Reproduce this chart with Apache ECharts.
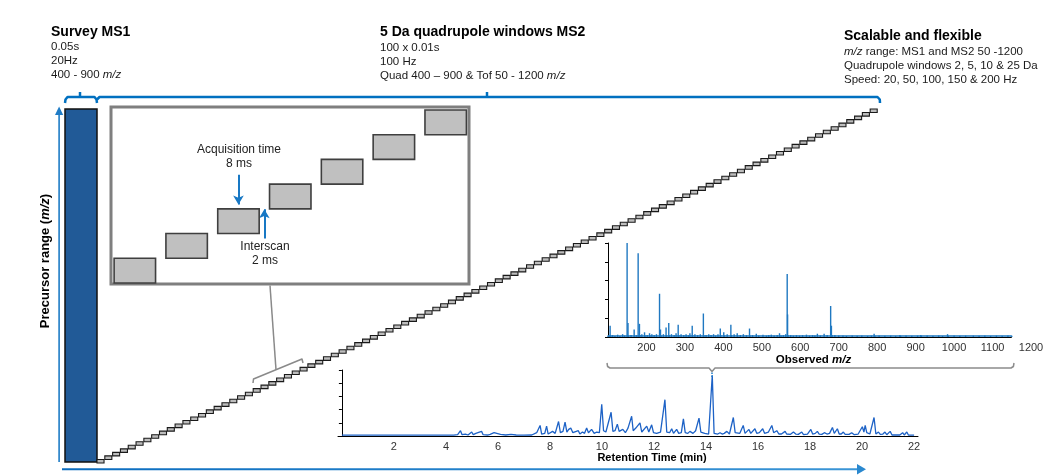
<!DOCTYPE html>
<html>
<head>
<meta charset="utf-8">
<script src="https://cdn.jsdelivr.net/npm/echarts@6/dist/echarts.min.js"></script>
<style>
  html, body { margin: 0; padding: 0; background: #fff; }
  #chart { width: 1059px; height: 475px; }
</style>
</head>
<body>
<div id="chart"></div>
<script>
// ---- acquisition scheme ----
const ms1Range = [400, 900];          // survey scan precursor range (m/z)
const ms1DurationMs = 50;             // 0.05 s survey scan
const cycleMs = 10;                   // one quadrupole window per 10 ms
const acquisitionMs = 8;              // 8 ms acquisition + 2 ms interscan
const windowDa = 5;                   // 5 Da quadrupole windows
// lower edge of every quadrupole window, 400 -> 895
const windowLows = [
  400, 405, 410, 415, 420, 425, 430, 435, 440, 445,
  450, 455, 460, 465, 470, 475, 480, 485, 490, 495,
  500, 505, 510, 515, 520, 525, 530, 535, 540, 545,
  550, 555, 560, 565, 570, 575, 580, 585, 590, 595,
  600, 605, 610, 615, 620, 625, 630, 635, 640, 645,
  650, 655, 660, 665, 670, 675, 680, 685, 690, 695,
  700, 705, 710, 715, 720, 725, 730, 735, 740, 745,
  750, 755, 760, 765, 770, 775, 780, 785, 790, 795,
  800, 805, 810, 815, 820, 825, 830, 835, 840, 845,
  850, 855, 860, 865, 870, 875, 880, 885, 890, 895
];
// close-up of the first seven windows
const zoomStartsMs = [0, 10, 20, 30, 40, 50, 60];
const zoomWindowLows = [400, 405, 410, 415, 420, 425, 430];

// ---- MS2 stick spectrum (observed m/z, relative intensity %) ----
const spectrumTicks = [200, 300, 400, 500, 600, 700, 800, 900, 1000, 1100, 1200];
const spectrum = [
  [100, 1.5], [104, 1], [105.5, 12], [107, 1.5], [112, 2], [118, 1], [125, 2.5], [131, 1],
  [138, 3], [143, 1.5], [149.7, 100], [151, 1.5], [152, 15], [153, 1.5], [160, 2], [168, 8],
  [169, 1.5], [174, 2], [178.4, 89], [179.5, 2], [181.8, 14], [183, 2], [188, 3], [195, 5],
  [196, 1.5], [202, 2], [208, 4], [209, 1.5], [214, 3], [220, 2], [226, 3], [234, 46],
  [235, 2], [236.5, 8], [238, 1.5], [244, 3], [251, 10], [252, 2], [258, 15], [259, 2],
  [265, 3], [272, 2], [277, 4], [282.5, 13], [284, 2], [290, 3], [297, 2], [303, 3],
  [309, 2], [313, 4], [319, 12], [320, 2], [326, 3], [333, 2], [340, 3], [348, 25],
  [349, 2], [355, 2], [362, 3], [368, 2], [374.5, 3], [380, 1.5], [386, 3], [392, 9],
  [393, 2], [401, 5], [402, 1.5], [410, 3], [419.5, 13], [421, 2], [428, 3], [436, 4],
  [437, 1.5], [444, 2], [452, 3], [460, 2], [468, 9], [469, 1.5], [476, 2], [485.6, 3.5],
  [492, 1.5], [503, 2.5], [512, 1.5], [518, 2], [524.7, 2.5], [532, 1.5], [540, 2], [546, 4],
  [550, 1.5], [556, 2], [562, 3], [566, 67], [567, 24], [568, 2], [575, 2], [582, 1.5],
  [590, 2], [598, 1.5], [606, 2], [616, 2.5], [624, 1.5], [632, 2], [638, 1.5], [644.5, 3.5],
  [652, 1.5], [662, 3.5], [670, 2], [679, 33], [681, 12], [682.6, 2], [690, 2], [700, 1.5],
  [711, 1.5], [720, 1.2], [735, 1.5], [748, 1.2], [760, 1.5], [775, 1.2], [785, 1.5], [792, 3.5],
  [794, 1.2], [805, 1.5], [820, 1.2], [835, 1.5], [848, 1.2], [859, 2], [861, 1.2], [875, 1.5],
  [890, 1.2], [905, 1.5], [913.5, 2], [915, 1.2], [930, 1.5], [945, 1.2], [960, 1.5], [970, 1.2],
  [983, 3], [985, 1.2], [1000, 1.5], [1015, 1.2], [1030, 1.5], [1050, 1.5], [1065, 1.2], [1080, 1.5],
  [1095, 1.2], [1110, 1.5], [1125, 1.2], [1140, 1.5], [1150, 1.2]
];
const spectrumSpan = [100, 1150];     // acquired m/z span of the MS2 scan

// ---- chromatogram (retention time min, relative intensity %) ----
const rtTicks = [2, 4, 6, 8, 10, 12, 14, 16, 18, 20, 22];
const chromatogram = [
  [0, 1.2], [4.3, 1.2], [4.45, 2], [4.5, 1.5], [4.56, 8], [4.62, 2], [4.75, 3], [4.85, 1.5],
  [4.99, 6], [5.05, 2], [5.15, 4], [5.22, 1.5], [5.37, 7], [5.43, 2], [5.6, 1.5], [5.7, 2.5],
  [5.85, 5], [5.92, 2], [6.1, 2.5], [6.3, 1.5], [6.5, 2.5], [6.7, 1.5], [7.0, 1.3], [7.3, 1.5],
  [7.49, 5], [7.55, 2], [7.62, 16], [7.68, 3], [7.8, 4], [7.87, 15], [7.93, 3], [8.0, 5],
  [8.1, 7], [8.2, 4], [8.33, 22], [8.4, 5], [8.5, 7], [8.58, 21], [8.65, 6], [8.72, 10],
  [8.8, 12], [8.88, 5], [8.95, 3], [9.09, 8], [9.15, 3], [9.25, 6], [9.33, 4], [9.41, 12],
  [9.48, 5], [9.6, 10], [9.7, 4], [9.8, 6], [9.9, 5], [9.99, 48], [10.06, 8], [10.15, 6],
  [10.22, 5], [10.35, 36], [10.42, 7], [10.5, 8], [10.59, 18], [10.66, 7], [10.8, 10], [10.9, 5],
  [11.0, 12], [11.14, 30], [11.2, 8], [11.3, 12], [11.46, 20], [11.53, 6], [11.6, 9], [11.72, 15],
  [11.8, 6], [11.91, 17], [11.98, 5], [12.1, 4], [12.25, 6], [12.42, 55], [12.49, 6], [12.6, 5],
  [12.68, 11], [12.75, 4], [12.87, 10], [12.95, 4], [13.05, 5], [13.13, 26], [13.2, 5], [13.3, 4],
  [13.38, 7], [13.5, 4], [13.6, 8], [13.73, 27], [13.8, 6], [13.95, 4], [14.1, 3], [14.24, 92],
  [14.31, 4], [14.45, 3], [14.54, 5], [14.62, 3], [14.7, 4], [14.8, 7], [14.9, 3], [15.05, 28],
  [15.12, 5], [15.3, 4], [15.43, 16], [15.5, 4], [15.65, 10], [15.72, 4], [15.88, 11], [15.95, 4],
  [16.05, 5], [16.18, 11], [16.25, 4], [16.4, 6], [16.53, 16], [16.6, 5], [16.72, 8], [16.8, 3],
  [16.9, 3], [17.04, 7], [17.1, 3], [17.25, 2.5], [17.36, 6], [17.45, 3], [17.55, 2.5], [17.68, 6],
  [17.75, 2], [17.9, 3], [18.03, 10], [18.1, 3], [18.2, 4], [18.28, 7], [18.35, 3], [18.45, 2.5],
  [18.55, 5], [18.65, 3], [18.75, 4], [18.86, 13], [18.93, 4], [19.05, 11], [19.12, 3], [19.2, 3],
  [19.28, 6], [19.35, 2.5], [19.5, 2.5], [19.6, 5], [19.7, 2], [19.85, 3], [20.01, 14], [20.07, 6],
  [20.12, 16], [20.18, 5], [20.23, 7], [20.3, 3], [20.46, 28], [20.53, 3], [20.63, 6], [20.7, 2.5],
  [20.8, 3], [20.88, 6], [20.95, 2], [21.08, 7], [21.15, 1.5], [21.3, 1.5], [21.45, 1.5], [21.56, 5],
  [21.62, 1.5], [21.72, 6], [21.78, 1.5], [22, 1.2]
];

// ---- styling ----
const FONT = 'Liberation Sans, Arial, sans-serif';
const BLUE = '#0070c0';
const TEXT = '#1a1a1a';

// rectangle spanning [x0, x1] x [y0, y1] in data space
function rectItem(fill, stroke, lineWidth) {
  return function (params, api) {
    const p0 = api.coord([api.value(0), api.value(3)]);
    const p1 = api.coord([api.value(1), api.value(2)]);
    return {
      type: 'rect',
      shape: { x: p0[0], y: p0[1], width: p1[0] - p0[0], height: p1[1] - p0[1] },
      style: { fill: fill, stroke: stroke, lineWidth: lineWidth }
    };
  };
}
// vertical stick from the baseline to the intensity
function stickItem(params, api) {
  const p0 = api.coord([api.value(0), 0]);
  const p1 = api.coord([api.value(0), api.value(1)]);
  return {
    type: 'line',
    shape: { x1: p0[0], y1: p0[1], x2: p1[0], y2: p1[1] },
    style: { stroke: '#1f78c1', lineWidth: 1.4 }
  };
}

function txt(x, y, text, o) {
  o = o || {};
  const size = o.size || 11.5;
  const weight = o.bold ? 'bold' : 'normal';
  const color = o.color || TEXT;
  return {
    type: 'text', x: x, y: y, rotation: o.rot || 0, silent: true, z: 20,
    style: {
      text: text, fill: color, fontSize: size, fontWeight: weight, fontFamily: FONT,
      align: o.align || 'left', verticalAlign: 'middle',
      rich: { i: { fontStyle: 'italic', fontWeight: weight, fontSize: size, fontFamily: FONT, fill: color } }
    }
  };
}
function poly(points, stroke, width, dash) {
  return {
    type: 'polyline', silent: true, z: 15,
    shape: { points: points },
    style: { stroke: stroke, lineWidth: width, fill: null, lineJoin: 'round', lineDash: dash || null }
  };
}

const plain = (v) => String(v);
const hiddenAxis = (gi, min, max) => ({ gridIndex: gi, type: 'value', min: min, max: max, show: false });
const frameAxis = (gi) => ({
  gridIndex: gi, type: 'value', min: 0, max: 100, interval: 20,
  axisLine: { show: true, lineStyle: { color: '#000', width: 1 } },
  axisTick: { show: true, inside: false, length: 3, lineStyle: { color: '#000' } },
  axisLabel: { show: false }, splitLine: { show: false }
});

const chart = echarts.init(document.getElementById('chart'), null, { renderer: 'canvas' });

chart.setOption({
  animation: false,
  backgroundColor: '#fff',
  grid: [
    { left: 65, top: 109, width: 32, height: 353, outerBoundsMode: 'none' },          // survey scan
    { left: 97, top: 109, width: 781, height: 354, outerBoundsMode: 'none' },         // window staircase
    { left: 111, top: 107, width: 358, height: 177, outerBoundsMode: 'none',
      show: true, backgroundColor: '#fff', borderColor: '#7f7f7f', borderWidth: 3 },  // close-up
    { left: 608, top: 243, width: 423, height: 94, outerBoundsMode: 'none' },         // MS2 spectrum
    { left: 338, top: 370, width: 580, height: 66, outerBoundsMode: 'none' }          // chromatogram
  ],
  xAxis: [
    hiddenAxis(0, 0, ms1DurationMs),
    hiddenAxis(1, 0, windowLows.length * cycleMs),
    hiddenAxis(2, -0.6, 68.5),
    {
      gridIndex: 3, type: 'value', min: 100, max: 1200,
      axisLine: { show: false }, axisTick: { show: false }, splitLine: { show: false },
      axisLabel: { customValues: spectrumTicks, formatter: plain, color: '#333', fontSize: 11, fontFamily: FONT, margin: 5 },
      name: 'Observed {i|m/z}', nameLocation: 'middle', nameGap: 16,
      nameTextStyle: {
        color: '#000', fontWeight: 'bold', fontSize: 11.5, fontFamily: FONT, padding: [0, 12, 0, 0],
        rich: { i: { fontStyle: 'italic', fontWeight: 'bold', fontSize: 11.5, fontFamily: FONT, color: '#000' } }
      }
    },
    {
      gridIndex: 4, type: 'value', min: -0.15, max: 22.15,
      axisLine: { show: true, onZero: false, lineStyle: { color: '#000', width: 1 } },
      axisTick: { show: false }, splitLine: { show: false },
      axisLabel: { customValues: rtTicks, formatter: plain, color: '#333', fontSize: 11, fontFamily: FONT, margin: 5 },
      name: 'Retention Time (min)', nameLocation: 'middle', nameGap: 16,
      nameTextStyle: { color: '#000', fontWeight: 'bold', fontSize: 11, fontFamily: FONT, padding: [0, 0, 0, 48] }
    }
  ],
  yAxis: [
    hiddenAxis(0, ms1Range[0], ms1Range[1]),
    hiddenAxis(1, ms1Range[0], ms1Range[1]),
    hiddenAxis(2, 399.8, 435.6),
    frameAxis(3),
    frameAxis(4)
  ],
  series: [
    {
      type: 'custom', xAxisIndex: 0, yAxisIndex: 0,
      renderItem: rectItem('#215a97', '#111', 1.5),
      data: [[0, ms1DurationMs, ms1Range[0], ms1Range[1]]]
    },
    {
      type: 'custom', xAxisIndex: 1, yAxisIndex: 1,
      renderItem: rectItem('#bdbdbd', '#1a1a1a', 1.1),
      data: windowLows.map((low, i) => [i * cycleMs, i * cycleMs + acquisitionMs + 1, low, low + windowDa])
    },
    {
      type: 'custom', xAxisIndex: 2, yAxisIndex: 2, z: 5,
      renderItem: rectItem('#c0c0c0', '#3f3f3f', 1.6),
      data: zoomStartsMs.map((t, i) => [t, t + acquisitionMs, zoomWindowLows[i], zoomWindowLows[i] + windowDa]),
      markLine: {
        silent: true, symbol: ['none', 'arrow'], symbolSize: [8, 9],
        lineStyle: { color: '#1878c4', width: 2, type: 'solid' },
        label: { show: false },
        data: [
          [{ coord: [24, 421.9] }, { coord: [24, 415.9] }],   // acquisition window
          [{ coord: [29, 409.0] }, { coord: [29, 414.9] }]    // interscan gap
        ]
      }
    },
    {
      type: 'custom', xAxisIndex: 3, yAxisIndex: 3, z: 4,
      renderItem: stickItem,
      data: spectrum,
      markLine: {
        silent: true, symbol: 'none', label: { show: false },
        data: [
          [{ coord: [spectrumSpan[0], 0], lineStyle: { color: '#000', width: 1, type: 'solid' } },
           { coord: [spectrumSpan[1], 0] }],
          [{ coord: [spectrumSpan[0], 1], lineStyle: { color: '#1f78c1', width: 1.6, type: 'solid' } },
           { coord: [spectrumSpan[1], 1] }]
        ]
      }
    },
    {
      type: 'line', xAxisIndex: 4, yAxisIndex: 4, data: chromatogram,
      showSymbol: false, z: 4,
      lineStyle: { color: '#1d62c6', width: 1.3 }
    }
  ],
  graphic: [
    // headings
    txt(51, 32, 'Survey MS1', { bold: true, size: 14, color: '#000' }),
    txt(51, 47, '0.05s'),
    txt(51, 61, '20Hz'),
    txt(51, 75, '400 - 900 {i|m/z}'),
    txt(380, 32, '5 Da quadrupole windows MS2', { bold: true, size: 14, color: '#000' }),
    txt(380, 48, '100 x 0.01s'),
    txt(380, 62, '100 Hz'),
    txt(380, 76, 'Quad 400 \u2013 900 & Tof 50 - 1200 {i|m/z}'),
    txt(844, 36, 'Scalable and flexible', { bold: true, size: 14, color: '#000' }),
    txt(844, 52, '{i|m/z} range: MS1 and MS2 50 -1200'),
    txt(844, 66, 'Quadrupole windows 2, 5, 10 & 25 Da'),
    txt(844, 80, 'Speed: 20, 50, 100, 150 & 200 Hz'),
    // close-up annotations
    txt(239, 150, 'Acquisition time', { align: 'center', size: 12, color: '#222' }),
    txt(239, 164, '8 ms', { align: 'center', size: 12, color: '#222' }),
    txt(265, 247, 'Interscan', { align: 'center', size: 12, color: '#222' }),
    txt(265, 261, '2 ms', { align: 'center', size: 12, color: '#222' }),
    // precursor axis title
    txt(45, 261, 'Precursor range ({i|m/z})', { bold: true, size: 13, color: '#000', align: 'center', rot: Math.PI / 2 }),

    // braces over the survey scan and the MS2 cycle
    poly([[65, 103], [65.5, 99.5], [67.5, 97], [94.5, 97], [96.5, 99.5], [97, 103]], BLUE, 2.5),
    poly([[80, 97], [80, 92]], BLUE, 2.5),
    poly([[97, 99.5], [99.5, 97], [877.5, 97], [879.8, 99.5], [880, 103]], BLUE, 2.5),
    poly([[487, 97], [487, 92]], BLUE, 2.5),

    // precursor range arrow (vertical)
    { type: 'rect', silent: true, z: 15, shape: { x: 58.3, y: 113, width: 1.6, height: 349 }, style: { fill: '#1f7cc6' } },
    { type: 'polygon', silent: true, z: 15, shape: { points: [[55, 115], [59.1, 106.5], [63.2, 115]] }, style: { fill: '#1f7cc6' } },
    // time arrow (horizontal)
    { type: 'rect', silent: true, z: 15, shape: { x: 62, y: 468.2, width: 797, height: 2 },
      style: { fill: new echarts.graphic.LinearGradient(0, 0, 1, 0, [
        { offset: 0, color: '#0a6cbf' }, { offset: 1, color: '#3a95d6' }]) } },
    { type: 'polygon', silent: true, z: 15, shape: { points: [[857, 464], [866, 469.2], [857, 474.4]] }, style: { fill: '#2a88cf' } },

    // close-up callout
    poly([[270, 285.5], [276, 369.7]], '#8a8a8a', 1.5),
    poly([[253, 383], [253.5, 379], [302, 359], [303, 363]], '#8a8a8a', 1.5),

    // spectrum bracket pointing at the selected chromatogram peak
    poly([[607, 363], [607.6, 366.5], [610, 368], [709, 368], [712, 371.5], [715, 368],
          [1011, 368], [1013.4, 366.5], [1014, 363]], '#8c8c8c', 1.5),
    poly([[712, 372.5], [712, 378]], '#1f7cc6', 1.5, [1.5, 1.5])
  ]
});
</script>
</body>
</html>
